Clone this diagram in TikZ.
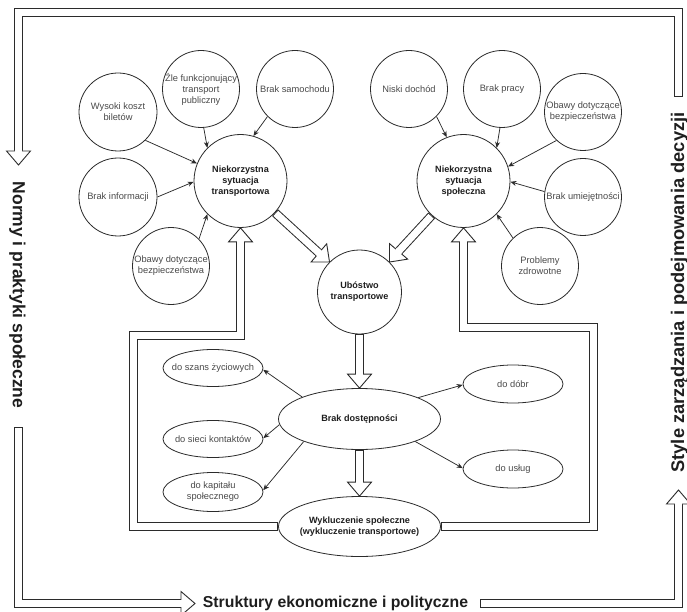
\documentclass[tikz,border=0pt]{standalone}
\usepackage{fontspec}
\setmainfont{Liberation Sans}
\usetikzlibrary{shapes.geometric,arrows.meta,calc}
\pgfdeclarelayer{background}
\pgfsetlayers{background,main}
\definecolor{edgec}{HTML}{2B2B2B}
\definecolor{txtc}{HTML}{4A4A4A}
\definecolor{boldc}{HTML}{1E1E1E}
\tikzset{
  bubble/.style={circle, draw=edgec, fill=white, line width=0.8pt, inner sep=-14pt,
    minimum size=#1, align=center, text=txtc, font=\fontsize{9.3}{11}\selectfont},
  bubble/.default=77pt,
  keybubble/.style={bubble=#1, text=boldc, font=\fontsize{9.1}{11}\selectfont\bfseries},
  oval/.style={ellipse, draw=edgec, fill=white, line width=0.8pt, inner sep=-14pt,
    minimum width=100pt, minimum height=37pt, align=center, text=txtc,
    font=\fontsize{9.3}{11}\selectfont},
  keyoval/.style={oval, minimum width=162pt, minimum height=61pt, text=boldc,
    font=\fontsize{9.1}{11}\selectfont\bfseries},
  thinarr/.style={draw=edgec, line width=0.75pt, -{Stealth[length=6pt,width=5pt]}},
  shaftout/.style={draw=edgec, line width=9pt, line join=miter},
  shaftin/.style={draw=white, line width=7pt, line join=miter},
  headst/.style={draw=edgec, fill=white, line width=0.9pt, line join=miter},
  biglab/.style={text=boldc, font=\bfseries, inner sep=0pt}
}
\newcommand{\flexarr}[3]{%
  \draw[shaftout] #1;
  \draw[headst] (#3) -- ($(#2)!12pt!90:(#3)$) -- ($(#2)!12pt!-90:(#3)$) -- cycle;
  \draw[shaftin, shorten <=1pt] #1;
  \draw[shaftin] ($(#2)!-1pt!(#3)$) -- ($(#2)!1.6pt!(#3)$);
}
\begin{document}
\begin{tikzpicture}[x=1pt,y=-1pt]
\useasboundingbox (0,0) rectangle (687,612);

% left cluster
\node[bubble=78pt] (wys) at (118,112) {Wysoki koszt\\biletów};
\node[bubble] (zle) at (201,89) {Źle funkcjonujący\\transport\\publiczny};
\node[bubble] (sam) at (295,89) {Brak samochodu};
\node[bubble=78pt] (inf) at (118,197) {Brak informacji};
\node[bubble] (obl) at (171,266) {Obawy dotyczące\\bezpieczeństwa};
\node[keybubble=93pt] (tr) at (240.5,181) {Niekorzystna\\sytuacja\\transportowa};

% right cluster
\node[bubble] (nis) at (409,89) {Niski dochód};
\node[bubble] (pra) at (502,89) {Brak pracy};
\node[bubble] (obr) at (583,112) {Obawy dotyczące\\bezpieczeństwa};
\node[bubble] (umi) at (583,197) {Brak umiejętności};
\node[bubble] (zdr) at (540,266) {Problemy\\zdrowotne};
\node[keybubble=93pt] (sp) at (463.5,181) {Niekorzystna\\sytuacja\\społeczna};

% centre
\node[keybubble=84pt] (ubo) at (359.5,292) {Ubóstwo\\transportowe};
\node[keyoval] (bd) at (359.5,419) {Brak dostępności};
\node[keyoval, minimum height=60pt] (wyk) at (359.5,526.5) {Wykluczenie społeczne\\(wykluczenie transportowe)};

\node[oval] (szans) at (213,368) {do szans życiowych};
\node[oval] (sieci) at (213,439) {do sieci kontaktów};
\node[oval, minimum height=39pt] (kap) at (213,492) {do kapitału\\społecznego};
\node[oval, minimum height=38pt] (dobr) at (513,384) {do dóbr};
\node[oval, minimum height=38pt] (uslug) at (513,469) {do usług};

% frame labels
\node[biglab, rotate=-90, font=\fontsize{17.5}{20}\selectfont\bfseries] (normy) at (17.5,295) {Normy i praktyki społeczne};
\node[biglab, font=\fontsize{15.8}{19}\selectfont\bfseries] (struk) at (335.5,603.5) {Struktury ekonomiczne i polityczne};
\node[biglab, rotate=90, font=\fontsize{18.3}{21}\selectfont\bfseries] (style) at (679.5,292.5) {Style zarządzania i podejmowania decyzji};

% thin arrows
\draw[thinarr] (wys.-46) -- (tr.158);
\draw[thinarr] (zle.-86) -- (tr.135);
\draw[thinarr] (sam.-135) -- (tr.74);
\draw[thinarr] (inf.0) -- (tr.181);
\draw[thinarr] (obl.44) -- (tr.225);
\draw[thinarr] (nis.-45) -- (sp.111);
\draw[thinarr] (pra.-93) -- (sp.45);
\draw[thinarr] (obr.-133) -- (sp.18);
\draw[thinarr] (umi.172) -- (sp.-1);
\draw[thinarr] (zdr.134) -- (sp.-45);
\draw[thinarr] (bd.159) -- (szans.-2);
\draw[thinarr] (bd.184) -- (sieci.1);
\draw[thinarr] (bd.202) -- (kap.2);
\draw[thinarr] (bd.20) -- (dobr.181);
\draw[thinarr] (bd.-22) -- (uslug.179);

% coordinates for hollow arrows
\coordinate (hA) at ($(ubo.135)!14pt!(tr.-45)$);
\coordinate (hB) at ($(ubo.45)!14pt!(sp.-135)$);
\coordinate (hC) at ($(bd.north)+(0,-14)$);
\coordinate (hD) at ($(wyk.north)+(0,-14)$);
\coordinate (fl) at (133.5,335.5);
\coordinate (hE) at ($(tr.south)+(0,14)$);
\coordinate (fr) at (593.5,327.5);
\coordinate (hF) at ($(sp.south)+(0,14)$);
\coordinate (g0) at (678.5,97);
\coordinate (g1) at (18.5,12.5);
\coordinate (gb) at (18.5,151);
\coordinate (gt) at (18.5,165);
\coordinate (k0) at (18.5,427);
\coordinate (kb) at (181,603.5);
\coordinate (kt) at (195,603.5);
\coordinate (m0) at (480,603.5);
\coordinate (mb) at (678.5,504);
\coordinate (mt) at (678.5,490);

\begin{pgfonlayer}{background}
\flexarr{(tr) -- (hA)}{hA}{ubo.135}
\flexarr{(sp) -- (hB)}{hB}{ubo.45}
\flexarr{(ubo) -- (hC)}{hC}{bd.north}
\flexarr{(bd) -- (hD)}{hD}{wyk.north}
\flexarr{(wyk) -| (fl) -| (hE)}{hE}{tr.south}
\flexarr{(wyk) -| (fr) -| (hF)}{hF}{sp.south}
\flexarr{(g0) |- (g1) -- (gb)}{gb}{gt}
\flexarr{(k0) |- (kb)}{kb}{kt}
\flexarr{(m0) -| (mb)}{mb}{mt}
\end{pgfonlayer}
\end{tikzpicture}
\end{document}
